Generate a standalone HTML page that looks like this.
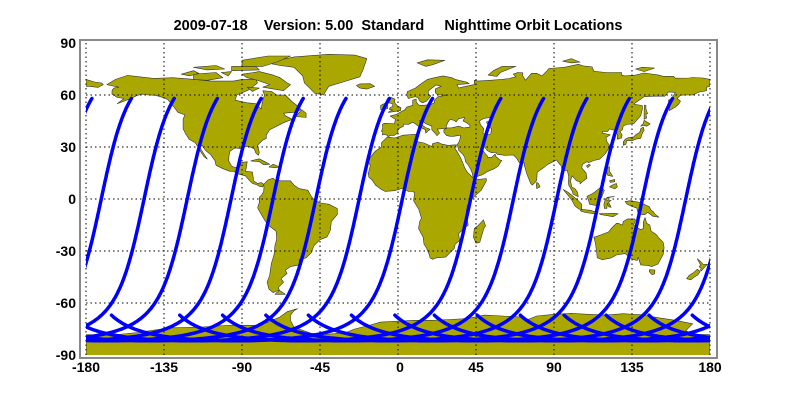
<!DOCTYPE html>
<html><head><meta charset="utf-8"><style>
html,body{margin:0;padding:0;background:#fff;}
svg{display:block;}
text{font-family:"Liberation Sans",Arial,sans-serif;font-weight:bold;fill:#000;}
</style></head><body>
<svg id="s" width="800" height="400" viewBox="0 0 800 400" xmlns="http://www.w3.org/2000/svg">
<defs><clipPath id="c"><rect x="86" y="43" width="624" height="312"/></clipPath></defs>
<rect width="800" height="400" fill="#fff"/>
<g id="land" clip-path="url(#c)" fill="#aaa800" stroke="#333" stroke-width="0.6" stroke-linejoin="round"></g>
<g id="grid" stroke="#000" stroke-width="1" stroke-dasharray="1.5,3" fill="none"></g>
<g id="orb" clip-path="url(#c)" stroke="#0000ff" stroke-width="3.5" fill="none" stroke-linecap="round"></g>
<rect x="80" y="40" width="637" height="318" fill="none" stroke="#888" stroke-width="2"/>
<text x="398" y="30" font-size="14.5" text-anchor="middle" xml:space="preserve">2009-07-18    Version: 5.00  Standard     Nighttime Orbit Locations</text>
<g font-size="14" text-anchor="end">
<text x="76" y="48">90</text><text x="76" y="100">60</text><text x="76" y="152">30</text><text x="76" y="204">0</text>
<text x="76" y="256">-30</text><text x="76" y="308">-60</text><text x="76" y="360">-90</text>
</g>
<g font-size="14" text-anchor="middle">
<text x="86" y="372">-180</text><text x="164" y="372">-135</text><text x="242" y="372">-90</text><text x="320" y="372">-45</text>
<text x="400" y="372">0</text><text x="476" y="372">45</text><text x="554" y="372">90</text><text x="632" y="372">135</text><text x="710" y="372">180</text>
</g>
</svg>
<script>
var K=1.7333;function X(l){return 398+l*K;}function Y(p){return 199-p*K;}
function P(a){var d="";for(var i=0;i<a.length;i+=2)d+=(i?"L":"M")+X(a[i]).toFixed(1)+","+Y(a[i+1]).toFixed(1);return d+"Z";}
var L=[
[-168,66,-163,69,-156,71.3,-141,69.6,-130,70,-117,69,-108,68,-95,68,-90,69,-82,69,-81,67,-86,63,-93,60,-94,57,-87,55.5,-82,55,-79,52,-78,57,-77,60,-78,62.5,-73,62,-70,60,-65,60,-61,56,-57,53,-56,51.5,-60,50,-66,49.5,-65,48,-61,46,-66,44,-70,42,-74,40,-76,37,-76,35,-78,34,-81,31,-80,27,-80.5,25.2,-82,26.5,-83,29,-86,30.3,-89,30.2,-90,29,-94,29.5,-97,27.5,-97.5,25,-97.7,22,-96,19,-94,18.2,-91,19,-90.5,21,-87,21.5,-87.5,18,-88,16,-84,15.5,-83.5,12,-83.5,10.5,-81,9,-79,9.5,-77.5,8.5,-78,7,-80,7.3,-81,8,-84,9,-86,11,-88,13.3,-92,14.5,-95,16,-97,16,-101,17.5,-105,19.5,-105.5,22,-108,25.5,-111,28,-113,31,-114.5,30,-112,26,-110,23,-112,24.5,-114,27.5,-115,29.5,-117,32.5,-120.5,34.5,-122.5,37.5,-124,40.5,-124,46,-123,48.5,-127,50,-130,54,-133,57.5,-137,59,-140,59.8,-144,60,-148,60.5,-151,59.5,-154,58,-158,56.5,-162,55,-158,58,-162,58.6,-165,60.5,-165,62.5,-164,64,-161,64.5,-166,65.5],
[-73,78,-67,80.5,-60,82,-40,83.5,-25,83,-18,81,-20,75,-22,70.5,-30,68,-40,65,-43,60,-48,61,-51,64,-54,67,-55,71,-60,76,-68,77],
[-80,73.5,-72,71.5,-68,70,-64,67,-62,66,-66,62.5,-72,63.5,-78,64.5,-74,66,-81,68.5,-87,70,-90,72],
[-118,72,-105,73,-101,70,-110,68.5,-118,69],
[-90,80,-75,82.5,-62,82.5,-70,79,-78,76.5,-90,76.5],
[-125,72,-118,74,-115,72.5,-120,71],
[-96,74,-80,74.5,-82,76.5,-96,76.5],
[-118,76,-105,77,-100,75,-110,74.5],
[-102,73,-96,73.5,-98,71],
[-87,64.5,-80,64,-84,62],
[-59,47.6,-53,47,-53,49.5,-55.5,51.5],
[-85,22,-80,23.2,-74,20,-77.5,19.8,-80,21.5],
[-74.5,18.5,-72,20,-68.5,18.5,-71,18],
[-77.5,8.5,-75,11,-72,12,-71,11,-68,10.5,-62,10.5,-60,8,-57,6,-52,5,-50,1.5,-48,-1,-44,-2.5,-40,-3,-35,-5.5,-35,-9,-38.5,-13,-39,-18,-41,-22,-45,-23.5,-48.5,-27,-50,-31,-53,-34,-57,-35,-57,-38,-62,-39,-65,-41,-64,-43,-67.5,-46,-66,-48,-69,-51,-68.5,-52.5,-72,-54,-74.5,-52,-75.5,-48,-74,-44,-73.5,-40,-73,-37,-71.5,-32,-71,-27,-70,-23,-70.3,-18.5,-75,-15,-77,-12,-80,-7,-81,-5,-80,-2,-80,1,-78.5,2.5,-77.5,4.5,-77.3,7],
[-68.5,-52.7,-65,-55,-71,-55],
[-17,21,-16,24,-14,26.5,-13,27.7,-9.5,30,-9.5,32.5,-6,35.8,-2,35.2,3,36.8,10,37.3,11,35,10,34,11.5,33,15,32.3,19.5,30.3,20,32,23,32.7,25,31.8,29,30.9,32,31.2,34,31.2,32.5,29.8,34,27.5,36,24,37.3,21,38.5,18,40,15.5,43,12.5,44,11,51,11.8,51,10.5,48,5,44,1.5,41.5,-1.5,40,-4,39.5,-7,39.5,-10,40.5,-15,37,-18,35,-20,35.5,-24,33,-26,32.5,-28.5,30,-31,27.5,-33.5,22,-34,20,-34.8,18.5,-34,18,-32,16.5,-28.5,15,-26,14.5,-22,11.8,-17,12.5,-13,13.5,-11,12,-6,9,-1,9.5,3.5,8.5,4.5,6,4.3,3,6.3,-2,4.8,-7.5,4.4,-9.5,5.5,-13,8,-15,11,-16.8,12.5,-17.2,14.7,-16.5,17,-16,19.5],
[49.3,-12,50.5,-15.5,49.5,-17,47.2,-25,45,-25.5,43.5,-22,44,-17,46,-15.5],
[-9,43,-8,43.7,-2,43.4,-1.5,46,-4.5,47.8,-1,48.8,1.5,50.2,4,51.5,5,53,8.5,54,8.5,57,10.5,57.7,10.5,56,12,54.2,14,54,19,54.5,21,55.5,21,57,23,59,29,60,23,60,21.5,61.3,21.5,63.5,25,65,22,65.8,19,63.5,17.5,62.3,17.5,60.5,19,59.5,16.5,56.5,14.2,55.5,12.7,56.3,11.5,58.5,10,59,6,58,5,60,5.5,62,10,64,14,67,17,69,21,70,26,71,31,70,33,69,40,67.3,41,66.5,34,66,35,64,37.5,64.7,44,66,44,68.5,46,68,53,68.5,60,69,64,69.5,68,70.5,66.5,72,69,73,72,72.8,72,71,73.5,68.5,77,72.5,80,72.5,83,71,86,74,87,75.3,96,76,104,77.7,107,76.8,112,76.2,113,73.7,120,73,129,73,129,71.5,131,71,137,71.5,142,72.7,150,71.6,153,70.8,159,70.8,160,69.7,168,69.8,170,70.1,176,69.8,180,69,180,65,178,64.5,178,62.5,174,61.8,170,60,166,60,163,59.9,161,58,163,56.5,162,54.8,160,53,156.5,51,156,57,158,58,160,61.5,156,61.8,154,59.3,148,59.3,142,59,136,54.8,141,53.8,141,52,140,48,136,43.5,132,43,130,42.2,129.5,40,128,39,129.3,37,129,35.2,126.5,34.5,126.5,37.5,125,39.5,122,40.5,121,39,118,39,118,38,120.5,37.5,122.5,37,120,35.5,120.5,33,122,31,121.5,29,119.5,26,116.5,23,113,22.2,110,21,109,21.5,106.5,20,106,18,108.5,15,109,12,107,10.5,105,8.7,105,10,103,10.5,100.5,13.4,99.5,10.5,100.3,7,102,6,103.5,4,104,1.3,101,2.8,100.5,4.5,98.5,8,98.3,10,98.5,13,97.7,16.5,94.5,16.5,94.2,19,92.5,21,91.5,22.5,90,21.8,86.5,20,84,18,80.3,15.5,80,11,79.5,10,77.5,8,76.5,9,74.5,14,73,19,72.7,21,70,21,68.5,23.5,66.6,25.4,61.5,25.2,57.3,25.8,56.3,27,54,26.7,51.5,27.9,50,30,48,30,49,28,50,26.5,51.5,25,51.5,24,54,24,56,26,56.5,24.5,58.8,22.5,59.8,22.3,57.8,19,55.5,17.5,52,16,48.7,14,45,12.8,43.3,12.7,42.8,15,42,17,40.5,19.6,39,21.5,38.5,24,37.5,25.6,35,28.1,34.2,31.3,35.5,33.5,36,35.8,36,36.8,32,36.2,30,36.2,28,36.7,26.5,38.5,26.5,40,28.5,41,31,41.1,35,42,38,41,41.5,41.5,41.5,42.5,39.5,44,37.5,45,38.5,47,35,46.3,33.5,44.5,32.5,45.3,30,46,28.7,44,27.8,42,28,41,26.2,40.6,23.5,40.3,22.6,40.5,24,38,22.5,36.5,21,38.3,19.5,40,19.5,42,16,43.5,13.5,45.3,12.3,45.2,12.5,44,14,42.5,16,41.2,18.5,40.2,17,39,16,38,15.7,40,12,41.8,10.5,43,8.5,44.3,6,43,3,43.2,3.2,42,0.8,40.8,-0.3,39.3,0.2,38.7,-0.8,37.6,-2.2,36.7,-4.5,36.7,-5.6,36,-6.4,36.8,-7.5,37.2,-9,37,-8.8,38.7,-9.5,39,-8.8,41],
[-5,50,1.5,51,1.7,52.7,0,53.5,-1.5,55,-2,56,-1.8,57.6,-4,58.6,-5,58.6,-6.2,56.5,-5,55.5,-3,54.8,-3.2,53.3,-4.5,52.8,-5,51.7,-3,51.4,-5.7,50],
[-6,52.2,-6,54,-7.5,55.2,-10,54,-10,51.6,-8,51.6],
[-22,64,-24,65.5,-22,66.4,-16,66.5,-13.5,65,-18,63.4],
[11,78.5,17,80.3,27,80,20,77.5,16,76.5],
[52,71.5,57,70.7,59,73,68,76.5,60,76.5,55,74],
[95,79.5,100,81,105,79,100,78.5],
[137,75,141,76,148,75.5,142,73.5],
[-180,69,-175,67.5,-171,66.9,-170,66,-173,64.4,-178,65,-180,65],
[130,31,131.5,31.5,132,33.8,135,33.5,137,34.5,140,35,141,38,142,39.5,141.5,41.5,140,40.5,139.5,38.5,137,37,136,35.8,133,35.5,131,34.4,130,33],
[140,42,141.5,42.6,143.5,42,145.5,43.3,142,45.4,141.5,43.5],
[142,46,143.5,46.8,143,49,144,49.2,143,52,143,54,142.2,54.2,142,51],
[120.3,22.6,121,22,122,25,121,25.2],
[108.7,19,110,20,111,19.5,109.5,18.2],
[80,6,82,7,81,9,80,9.6,79.8,8],
[120,18.5,122,18.5,122,16,124,13,121,13.7,120.5,15],
[122,7,125,5.8,126.5,7,126,9,123.5,8],
[122,10.5,125,11.3,125,10,122.5,9.5],
[109,1.5,110,-1,110.5,-3,114,-3.7,116.5,-3.5,116,-1,117.5,1,119,5,117,7,116,6,113.5,4,111,2.5],
[95.3,5.5,98,4,100.5,2,104,-1,106,-3,106,-6,104.5,-5.8,102,-4,100.5,-1,98.5,1.7],
[105.2,-6.8,106,-6,111,-6.5,114.5,-7.7,114.5,-8.7,108,-7.8],
[119,-5.5,120.5,-5.5,120.8,-2.5,121.5,-4.5,123,-4.8,121.5,-1.9,123,-0.8,120.5,-1,120.8,1,124.8,1.5,120,0.5,119.5,-0.5,118.8,-2.8],
[131,-1.5,134,-1,138,-1.7,141,-2.6,145,-4.5,146,-6.5,147.5,-7.5,148,-8.5,150.5,-10.5,147,-10,144,-7.7,142.5,-9,141,-9,138.5,-8.2,137.8,-5.2,135,-4.3,132,-2.9],
[116,-8.5,125,-8.3,127,-8.5,124,-10.2,117,-9],
[113,-22,114,-26,115,-34,118,-35,123,-34,126,-32.3,131,-31.5,135,-34.7,138,-35.5,138.5,-33.5,140,-38,144,-38.3,146.5,-39,150,-37.5,153,-32,153.5,-28,153,-25,150.5,-22.5,149,-20.5,146,-18.5,145.3,-15,143.5,-14,142.5,-10.7,141.5,-13.5,141.5,-17,140,-17.7,136,-15,137,-12.2,136.5,-11.5,132.5,-11.5,130,-13,129.5,-15,127,-14,126,-14,123,-17,121.5,-19,117,-20.7,114,-21.8],
[145,-40.8,148.3,-41,148,-43.2,146.5,-43.6,145,-42],
[172.7,-34.5,174.5,-36,176,-37.6,178.5,-37.7,177,-39.2,175,-41.5,174.6,-41.2,174.8,-39.8,173.8,-39.2,174.5,-38],
[172.7,-40.5,174.3,-41.7,173,-43.8,171,-45,169,-46.6,166.5,-46,168,-44,170.5,-42.5],
[-180,-92,-180,-78.3,-165,-78.5,-150,-77,-140,-75.5,-130,-74.3,-115,-74,-100,-73,-90,-72.8,-80,-73,-75,-71,-68,-68,-64,-65,-58,-63.3,-60,-64.5,-62,-67,-62,-70,-60,-74,-50,-77.5,-40,-78,-30,-77,-25,-75,-17,-73,-10,-71,0,-70.5,10,-70,20,-70,30,-69.5,40,-69,50,-67,60,-67.5,70,-68,75,-69.5,80,-67.5,90,-66.5,100,-66,110,-66.5,120,-67,130,-66.2,140,-66.8,150,-68.5,160,-70,165,-71,170,-72,166,-76,170,-78,180,-78.3,180,-92]
];
var h="";L.forEach(function(a){h+='<path d="'+P(a)+'"/>';});
h+='<path fill="#fff" d="'+P([47,45,49.5,46.5,53,47,53,45,51,44.5,52.5,41.5,54,40.5,53.5,37.5,51,36.8,49,38,49.5,40.5,47.5,43])+'"/>';
document.getElementById("land").innerHTML=h;
var g="";[-180,-135,-90,-45,0,45,90,135,180].forEach(function(l){g+='<line x1="'+X(l)+'" y1="43" x2="'+X(l)+'" y2="355"/>';});
[-60,-30,0,30,60].forEach(function(p){g+='<line x1="86" y1="'+Y(p)+'" x2="710" y2="'+Y(p)+'"/>';});
document.getElementById("grid").innerHTML=g;
var R=Math.PI/180,inc=98.2*R,si=Math.sin(inc),ci=Math.cos(inc);
var eq=[-171.2,-146.5,-121.6,-96.3,-72.1,-47.4,-22.4,2.5,41.9,66.6,91.6,116.1,141.0,166.0];
var o="";
eq.forEach(function(L0){
  var pts=[],prev=null;
  for(var ud=121.04;ud<=291.6;ud+=0.5){
    var u=ud*R,lat=Math.asin(si*Math.sin(u))/R,li=Math.atan2(ci*Math.sin(u),Math.cos(u))/R;
    if(li<0)li+=360;
    if(prev!==null){while(li-prev>180)li-=360;while(li-prev<-180)li+=360;}
    prev=li;
    var lon=L0+(li-180)-24.77*(ud-180)/360;
    pts.push([lon,lat]);
  }
  [-360,0,360].forEach(function(s){
    var d="";pts.forEach(function(p,i){d+=(i?"L":"M")+X(p[0]+s).toFixed(1)+","+Y(p[1]).toFixed(1);});
    o+='<path d="'+d+'"/>';
  });
});
document.getElementById("orb").innerHTML=o;
</script>
</body></html>
